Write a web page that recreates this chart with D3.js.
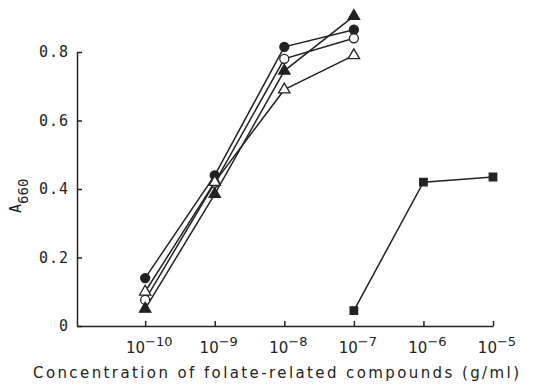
<!DOCTYPE html>
<html>
<head>
<meta charset="utf-8">
<script src="https://cdn.jsdelivr.net/npm/d3@7"></script>
<style>
  body { margin: 0; background: #fff; }
  svg { display: block; }
</style>
</head>
<body>
<div id="chart"></div>
<script>
// data
var concentrations = [1e-10, 1e-9, 1e-8, 1e-7];
var filledCircle = [0.14, 0.44, 0.815, 0.865];
var openCircle = [0.076, 0.418, 0.78, 0.84];
var filledTriangle = [0.05, 0.385, 0.745, 0.905];
var openTriangle = [0.10, 0.42, 0.69, 0.79];
var squareConc = [1e-7, 1e-6, 1e-5];
var filledSquare = [0.045, 0.42, 0.435];

var xTickExponents = [-10, -9, -8, -7, -6, -5];
var yTicks = [0, 0.2, 0.4, 0.6, 0.8];

var W = 537, H = 386;
var ink = "#222";

var svg = d3.select("#chart").append("svg")
  .attr("width", W)
  .attr("height", H);

// x: log scale, axis starts a bit less than one decade below 1e-10
var x = d3.scaleLog()
  .domain([Math.pow(10, -10.98), 1e-5])
  .range([77, 493]);

var y = d3.scaleLinear()
  .domain([0, 0.8])
  .range([326, 52]);

// y axis (inward ticks)
var yAxis = svg.append("g")
  .attr("transform", "translate(77,0)")
  .call(d3.axisLeft(y)
    .tickValues(yTicks)
    .tickSizeInner(-5)
    .tickSizeOuter(0)
    .tickPadding(8)
    .tickFormat(function(d) { return d === 0 ? "0" : d3.format(".1f")(d); }));
yAxis.selectAll("path, line").attr("stroke", ink).attr("stroke-width", 1.5);
yAxis.selectAll("text")
  .attr("fill", ink)
  .style("font-family", "DejaVu Sans Mono")
  .style("font-size", "15px")
  .style("letter-spacing", "1px");

// x axis (inward ticks, custom power-of-ten labels)
var xAxis = svg.append("g")
  .attr("transform", "translate(0,326)")
  .call(d3.axisBottom(x)
    .tickValues(xTickExponents.map(function(e) { return Math.pow(10, e); }))
    .tickSizeInner(-5)
    .tickSizeOuter(0)
    .tickFormat(""));
xAxis.selectAll("path, line").attr("stroke", ink).attr("stroke-width", 1.5);

var xLabels = svg.append("g")
  .selectAll("text")
  .data(xTickExponents)
  .enter()
  .append("text")
    .attr("x", function(d) { return x(Math.pow(10, d)) + 4; })
    .attr("y", 353)
    .attr("text-anchor", "middle")
    .attr("fill", ink)
    .style("font-family", "DejaVu Sans")
    .style("font-size", "15px");
xLabels.append("tspan").text("10");
xLabels.append("tspan")
  .attr("dy", -7)
  .style("font-size", "13px")
  .text(function(d) { return "\u2212" + Math.abs(d); });

// axis titles
svg.append("text")
  .attr("x", 276)
  .attr("y", 378)
  .attr("text-anchor", "middle")
  .attr("textLength", 486)
  .attr("fill", ink)
  .style("font-family", "DejaVu Sans")
  .style("font-size", "15px")
  .text("Concentration of folate-related compounds (g/ml)");

var yTitle = svg.append("text")
  .attr("transform", "translate(21,213) rotate(-90)")
  .attr("fill", ink)
  .style("font-family", "DejaVu Sans Mono")
  .style("font-size", "15px");
yTitle.append("tspan").text("A");
yTitle.append("tspan")
  .attr("dy", 7)
  .style("font-size", "14px")
  .text("660");

// series
var series = [
  { conc: concentrations, vals: filledCircle, shape: "circle", fill: ink },
  { conc: concentrations, vals: openCircle, shape: "circle", fill: "#fff" },
  { conc: concentrations, vals: openTriangle, shape: "triangle", fill: "#fff" },
  { conc: concentrations, vals: filledTriangle, shape: "triangle", fill: ink },
  { conc: squareConc, vals: filledSquare, shape: "square", fill: ink }
];

var line = d3.line()
  .x(function(d) { return x(d[0]); })
  .y(function(d) { return y(d[1]); });

series.forEach(function(s) {
  s.points = s.conc.map(function(c, i) { return [c, s.vals[i]]; });
});

// lines first
svg.append("g").selectAll("path")
  .data(series)
  .enter()
  .append("path")
    .attr("d", function(s) { return line(s.points); })
    .attr("fill", "none")
    .attr("stroke", ink)
    .attr("stroke-width", 1.5);

// then markers
var symbolType = { circle: d3.symbolCircle, triangle: d3.symbolTriangle, square: d3.symbolSquare };
var symbolSize = { circle: 64, triangle: 56, square: 56 };

series.forEach(function(s) {
  svg.append("g").selectAll("path")
    .data(s.points)
    .enter()
    .append("path")
      .attr("transform", function(d) { return "translate(" + x(d[0]) + "," + y(d[1]) + ")"; })
      .attr("d", d3.symbol().type(symbolType[s.shape]).size(symbolSize[s.shape]))
      .attr("fill", s.fill)
      .attr("stroke", ink)
      .attr("stroke-width", 1.3);
});
</script>
</body>
</html>
